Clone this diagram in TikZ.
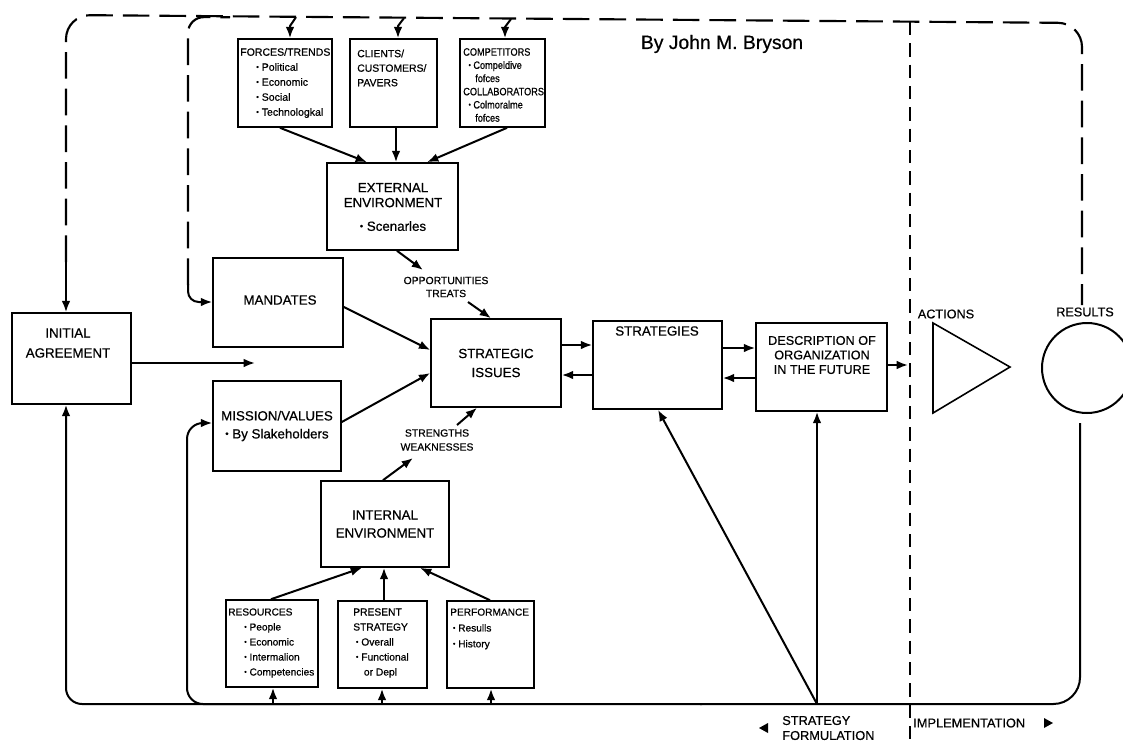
\documentclass[tikz,border=0pt]{standalone}
\usepackage{fontspec}
\setmainfont{Liberation Sans}[FakeBold=0.6]
\newfontfamily\condf[FakeStretch=0.86,FakeBold=0.6]{Liberation Sans}
\usetikzlibrary{arrows.meta,fit}
\newcommand\bul{\raisebox{0.12em}{\scalebox{0.7}{•}}~}
\begin{document}
\begin{tikzpicture}[x=0.75pt,y=-0.75pt,
 box/.style={draw, line width=1.2pt, inner sep=0pt},
 ln/.style={line width=1.5pt},
 arr/.style={ln, -{Latex[length=8.5pt,width=6.5pt]}},
 dsh/.style={line width=1.6pt, dash pattern=on 20pt off 7.5pt},
 dv/.style={line width=1.1pt, dash pattern=on 10pt off 6pt},
 big/.style={align=center, inner sep=0pt},
 sm/.style={align=left, inner sep=0pt, anchor=west},
 lab/.style={align=center, inner sep=0pt},
]
\useasboundingbox (0,0) rectangle (1123,746);

% ---------- boxes ----------
\node[box, fit={(238,39) (332,127)}] (forces) {};
\node[box, fit={(350,39) (437,127)}] (clients) {};
\node[box, fit={(460,39) (545,127)}] (comp) {};
\node[box, fit={(327,163) (458,250)}] (ext) {};
\node[box, fit={(12,313) (131,404)}] (init) {};
\node[box, fit={(213,258) (343,347)}] (mand) {};
\node[box, fit={(213,381) (341,471)}] (miss) {};
\node[box, fit={(431,319) (561,407)}] (strat) {};
\node[box, fit={(593,321) (722,409)}] (strg) {};
\node[box, fit={(756,323) (887,411)}] (desc) {};
\node[box, fit={(321,481) (449,567)}] (intl) {};
\node[box, fit={(226,600) (318,687)}] (res) {};
\node[box, fit={(338,601) (427,688)}] (pres) {};
\node[box, fit={(447,601) (534,688)}] (perf) {};
\draw[line width=1.2pt] (933,323) -- (933,413) -- (1010,367) -- cycle;
\node[draw, circle, line width=1.5pt, minimum size=67.5pt, inner sep=0pt] (results) at (1087,368) {};

% ---------- texts ----------
\node[sm, font=\fontsize{7.9}{11.25}\selectfont] (forcesT) at (240,83)
  {FORCES/TRENDS\\\hspace*{12pt}\bul Political\\\hspace*{12pt}\bul Economic\\\hspace*{12pt}\bul Social\\\hspace*{12pt}\bul Technologkal};
\node[sm, font=\fontsize{7.8}{10.9}\selectfont] (clientsT) at (357,68)
  {CLIENTS/\\CUSTOMERS/\\PAVERS};
\node[sm, font=\condf\fontsize{8}{9.9}\selectfont] (compT) at (463,85)
  {COMPETITORS\\\hspace*{4pt}\bul Compeldive\\\hspace*{9pt}fofces\\COLLABORATORS\\\hspace*{4pt}\bul Colmoralme\\\hspace*{9pt}fofces};
\node[big, font=\fontsize{10}{11.25}\selectfont] (extT) at (393,207)
  {EXTERNAL\\ENVIRONMENT\\[6.5pt]\bul Scenarles};
\node[big, font=\fontsize{10}{15}\selectfont] (initT) at (68,343) {INITIAL\\AGREEMENT};
\node[big, font=\fontsize{10}{12}\selectfont] (mandT) at (280,300) {MANDATES};
\node[big, font=\fontsize{10}{13.5}\selectfont] (missT) at (277,426) {MISSION/VALUES\\\bul By Slakeholders};
\node[big, font=\fontsize{10}{14.25}\selectfont] (stratT) at (496,363) {STRATEGIC\\ISSUES};
\node[big, font=\fontsize{10}{12}\selectfont] (strgT) at (657,331) {STRATEGIES};
\node[big, font=\fontsize{9.5}{10.9}\selectfont] (descT) at (822,355) {DESCRIPTION OF\\ORGANIZATION\\IN THE FUTURE};
\node[big, font=\fontsize{10}{13.5}\selectfont] (intlT) at (385,524) {INTERNAL\\ENVIRONMENT};
\node[sm, font=\fontsize{7.6}{11.25}\selectfont] (resT) at (228,643)
  {RESOURCES\\\hspace*{12pt}\bul People\\\hspace*{12pt}\bul Economic\\\hspace*{12pt}\bul Intermalion\\\hspace*{12pt}\bul Competencies};
\node[sm, font=\fontsize{7.7}{11.25}\selectfont] (presT) at (353,643)
  {PRESENT\\STRATEGY\\\hspace*{2pt}\bul Overall\\\hspace*{2pt}\bul Functional\\\hspace*{8pt}or Depl};
\node[sm, font=\fontsize{7.6}{11.9}\selectfont] (perfT) at (450,629)
  {PERFORMANCE\\\hspace*{2pt}\bul Resulls\\\hspace*{2pt}\bul History};
\node[lab, font=\fontsize{7.8}{9.75}\selectfont] (opp) at (446,287) {OPPORTUNITIES\\TREATS};
\node[lab, font=\fontsize{7.8}{10.5}\selectfont] (stw) at (437,440) {STRENGTHS\\WEAKNESSES};
\node[big, font=\fontsize{9.5}{12}\selectfont] (actT) at (946,314) {ACTIONS};
\node[big, font=\fontsize{9.5}{12}\selectfont] (resuT) at (1085,312) {RESULTS};
\node[big, font=\fontsize{14.5}{17}\selectfont] (author) at (722,44) {By John M. Bryson};
\node[sm, font=\fontsize{9.6}{11.25}\selectfont] (sform) at (782,728) {STRATEGY\\FORMULATION};
\node[sm, font=\fontsize{9.6}{11.25}\selectfont] (impl) at (913,723) {IMPLEMENTATION};
\fill (759,728) -- (768,723) -- (768,733) -- cycle;
\fill (1053,723) -- (1044,718) -- (1044,728) -- cycle;

% ---------- named free ends ----------
\coordinate (oppin) at (423,270);
\coordinate (oppout) at (468,302);
\coordinate (strin) at (413,458);
\coordinate (strout) at (457,425);
\coordinate (initout) at (255,363);
\coordinate (implin) at (908,365);
\coordinate (junc) at (817,704);
\coordinate (rbot) at (1080,423);

% ---------- dashed feedback loops ----------
\draw[dsh, rounded corners=18pt] (66,262) -- (66,15) -- (1082,23) -- (1082,305);
\draw[arr] (66,262) -- (init.north -| 66,0);
\draw[dsh, rounded corners=12pt] (188,285) -- (188,17) -- (230,17.3);
\draw[arr, rounded corners=8pt] (188,284) -- (188,302) -- (mand.west |- 0,302);
\draw[dv] (910,22) -- (910,746);

% ---------- arrows into top boxes ----------
\draw[arr] (296,17.2) -- (290,26) -- (forces.north -| 290,0);
\draw[arr] (404,18.1) -- (398,26) -- (clients.north -| 398,0);
\draw[arr] (511,19) -- (505,27) -- (comp.north -| 505,0);

% ---------- external ----------
\draw[arr] (forces.south -| 280,0) -- (ext.north -| 367,0);
\draw[arr] (clients.south -| 396,0) -- (ext.north -| 396,0);
\draw[arr] (comp.south -| 507,0) -- (ext.north -| 427,0);
\draw[arr] (ext.south -| 397,0) -- (oppin);
\draw[arr] (oppout) -- (strat.north -| 491,0);

% ---------- left side ----------
\draw[arr] (mand.east |- 0,307) -- (strat.west |- 0,350);
\draw[arr] (miss.east |- 0,422) -- (strat.west |- 0,373);
\draw[arr] (init.east |- 0,363) -- (initout);

% ---------- internal ----------
\draw[arr] (intl.north -| 383,0) -- (strin);
\draw[arr] (strout) -- (strat.south -| 477,0);
\draw[arr] (res.north -| 271,0) -- (intl.south -| 362,0);
\draw[arr] (pres.north -| 384,0) -- (intl.south -| 384,0);
\draw[arr] (perf.north -| 490,0) -- (intl.south -| 420,0);

% ---------- middle chain ----------
\draw[arr] (strat.east |- 0,345) -- (strg.west |- 0,345);
\draw[arr] (strg.west |- 0,375) -- (strat.east |- 0,375);
\draw[arr] (strg.east |- 0,348) -- (desc.west |- 0,348);
\draw[arr] (desc.west |- 0,378) -- (strg.east |- 0,378);
\draw[arr] (desc.east |- 0,365) -- (implin);

% ---------- bottom feedback ----------
\draw[ln, rounded corners=20pt] (rbot) -- (1080,704) -- (700,704);
\draw[arr, rounded corners=12pt] (702,704) -- (66,704) -- (init.south -| 66,0);
\draw[arr, rounded corners=12pt] (300,704) -- (187,704) -- (187,423) -- (miss.west |- 0,423);
\draw[arr] (273,704) -- (res.south -| 273,0);
\draw[arr] (382,704) -- (pres.south -| 382,0);
\draw[arr] (491,704) -- (perf.south -| 491,0);
\draw[arr] (junc) -- (strg.south -| 658,0);
\draw[arr] (junc) -- (desc.south -| 817,0);
\end{tikzpicture}
\end{document}
